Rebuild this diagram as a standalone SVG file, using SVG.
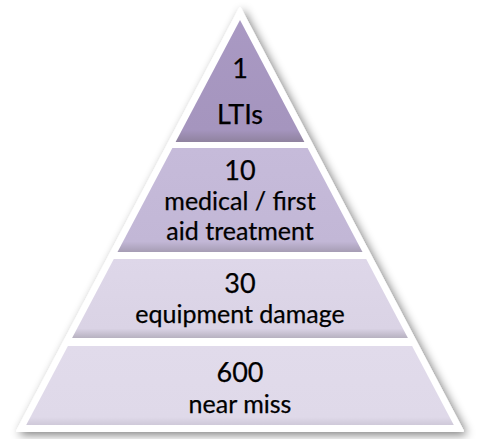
<svg xmlns="http://www.w3.org/2000/svg" width="482" height="439" viewBox="0 0 482 439">
<defs>
<filter id="shadow" x="-20%" y="-20%" width="140%" height="140%">
<feGaussianBlur in="SourceAlpha" stdDeviation="5"/>
<feOffset dx="3" dy="3" result="b"/>
<feComponentTransfer><feFuncA type="linear" slope="0.5"/></feComponentTransfer>
<feMerge><feMergeNode/><feMergeNode in="SourceGraphic"/></feMerge>
</filter>
<linearGradient id="g1" x1="0" y1="0" x2="0" y2="1">
<stop offset="0" stop-color="#A999C3"/><stop offset="0.9" stop-color="#A595BE"/><stop offset="1" stop-color="#8F829F"/>
</linearGradient>
<linearGradient id="g2" x1="0" y1="0" x2="0" y2="1">
<stop offset="0" stop-color="#C6BBDA"/><stop offset="0.9" stop-color="#C2B7D6"/><stop offset="1" stop-color="#A69DB4"/>
</linearGradient>
<linearGradient id="g3" x1="0" y1="0" x2="0" y2="1">
<stop offset="0" stop-color="#DED7E9"/><stop offset="0.88" stop-color="#DAD3E5"/><stop offset="1" stop-color="#B7B1C0"/>
</linearGradient>
<linearGradient id="g4" x1="0" y1="0" x2="0" y2="1">
<stop offset="0" stop-color="#E1DBEB"/><stop offset="0.9" stop-color="#DFD9E9"/><stop offset="1" stop-color="#CFC9D9"/>
</linearGradient>
</defs>
<style>
text{font-family:"Lato","Open Sans","Liberation Sans",sans-serif;font-size:25px;fill:#000;text-anchor:middle;stroke:#000;stroke-width:0.25px}
.big{font-size:27px}
.top{font-size:27px}
</style>
<rect width="482" height="439" fill="#fff"/>
<polygon points="240,8 17,431 463,431" fill="#fff" stroke="#fff" stroke-width="2" stroke-linejoin="round" filter="url(#shadow)"/>
<g id="level-1">
<polygon points="240,20 175.6,142 304.4,142" fill="url(#g1)"/>
<text x="240" y="78" class="top">1</text>
<text x="240" y="124" class="top">LTIs</text>
</g>
<g id="level-2">
<polygon points="172.4,148 307.6,148 362.5,252 117.5,252" fill="url(#g2)"/>
<text x="240" y="180" class="big">10</text>
<text x="240" y="210">medical / first</text>
<text x="240" y="240">aid treatment</text>
</g>
<g id="level-3">
<polygon points="113.8,259 366.2,259 407.9,338 72.1,338" fill="url(#g3)"/>
<text x="240" y="293" class="big">30</text>
<text x="240" y="323">equipment damage</text>
</g>
<g id="level-4">
<polygon points="67.9,346 412.1,346 453.8,425 26.2,425" fill="url(#g4)"/>
<text x="240" y="382" class="big">600</text>
<text x="240" y="413">near miss</text>
</g>
<g id="connectors"/>
</svg>
